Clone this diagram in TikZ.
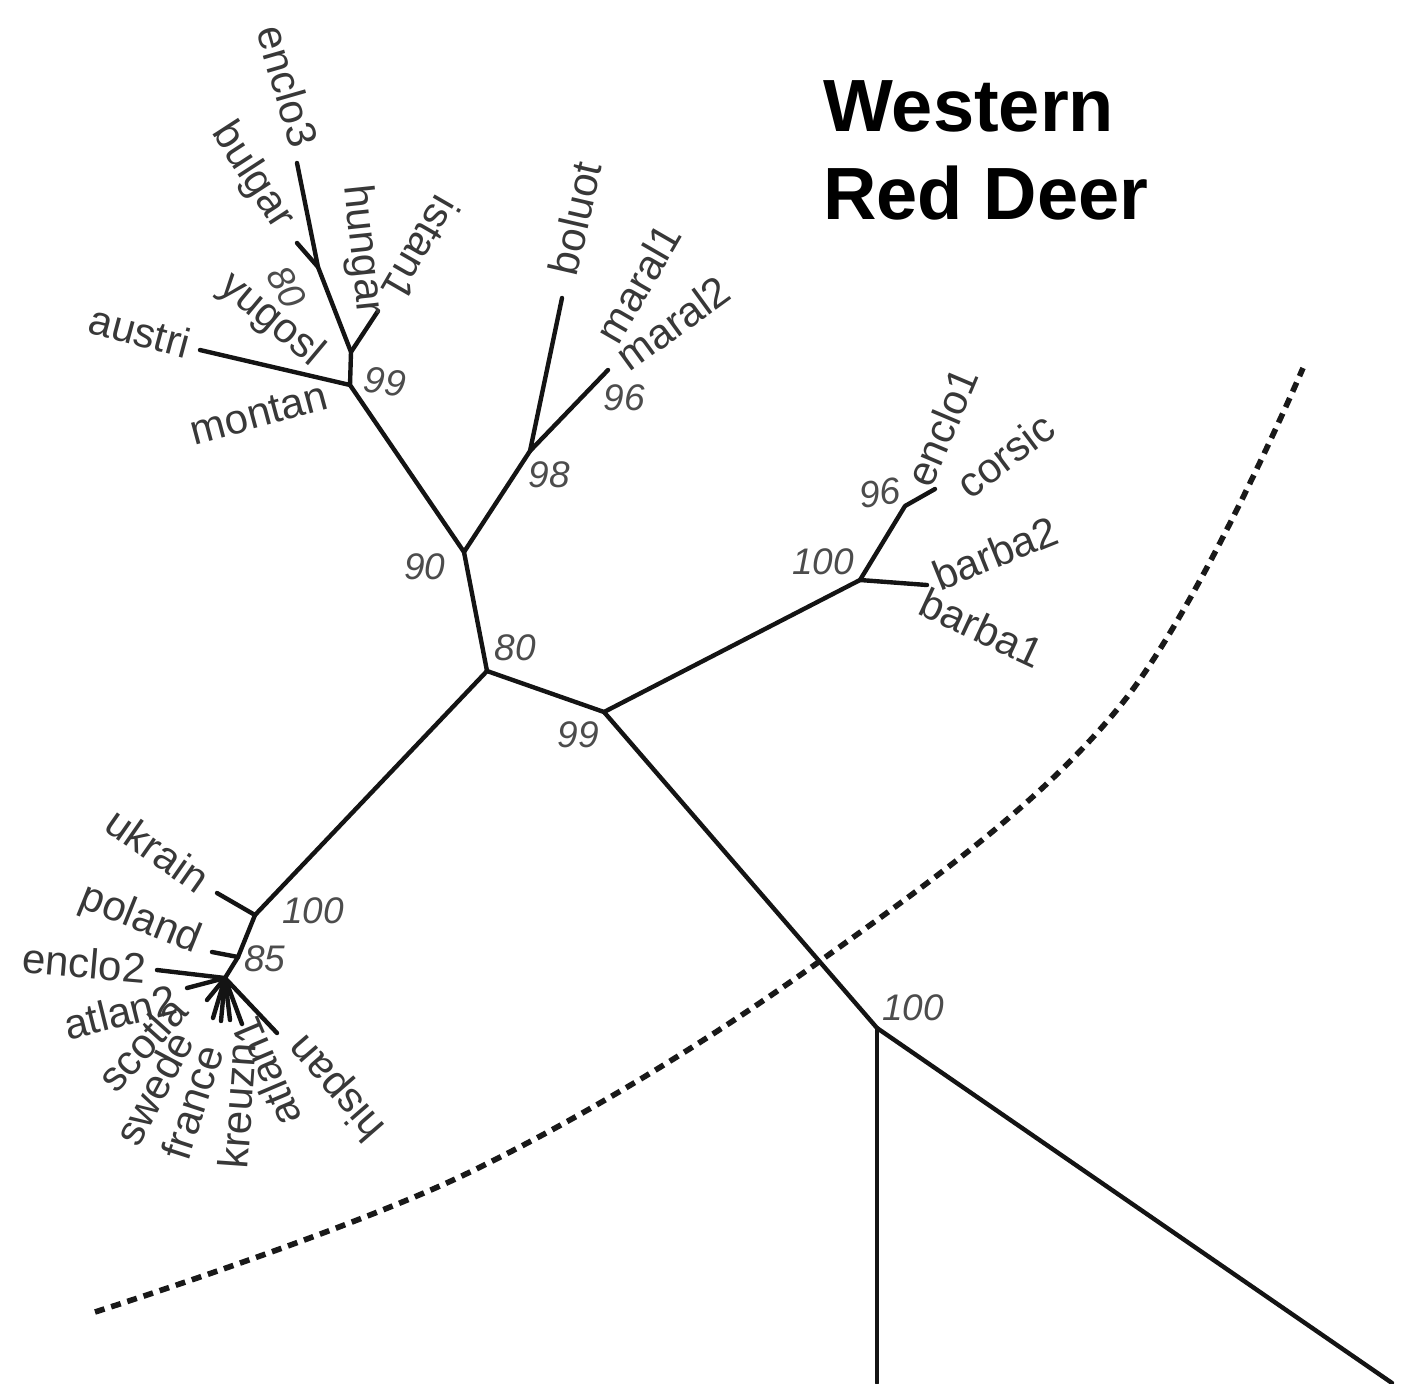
\documentclass[tikz,border=0pt]{standalone}
\usepackage{fontspec}
\setmainfont{Liberation Sans}
\begin{document}
\begin{tikzpicture}[x=0.5pt,y=-0.5pt,
  br/.style={line width=2.2pt, draw=black!92, line cap=round, line join=round},
  tx/.style={font=\fontsize{21}{21}\selectfont, text=black!78, inner sep=0pt},
  bs/.style={font=\itshape\fontsize{18.5}{18.5}\selectfont, text=black!70, inner sep=0pt},
  ttl/.style={font=\bfseries\fontsize{37}{44}\selectfont, text=black, inner sep=0pt, align=left, anchor=north west},
  bound/.style={line width=2.8pt, draw=black!90, dash pattern=on 5pt off 3.5pt}]
\useasboundingbox (0,0) rectangle (1402,1383);
% ---- tree nodes (coordinates) ----
\coordinate (n99) at (350,385);
\coordinate (nh) at (351,352);
\coordinate (n80a) at (318,267);
\coordinate (tenclo3) at (297,163);
\coordinate (tbulgar) at (297,243);
\coordinate (tistan) at (378,311);
\coordinate (taustri) at (200,350);
\coordinate (n90) at (464,552);
\coordinate (n98) at (530,451);
\coordinate (tboluot) at (562,298);
\coordinate (n96a) at (608,370);
\coordinate (n80c) at (487,671);
\coordinate (n99b) at (604,712);
\coordinate (n100b) at (860,580);
\coordinate (n96b) at (905,506);
\coordinate (tenclo1) at (935,489);
\coordinate (tbarba) at (927,585);
\coordinate (n100c) at (877,1028);
\coordinate (eb1) at (877,1383);
\coordinate (eb2) at (1392,1383);
\coordinate (n100a) at (255,915);
\coordinate (tukrain) at (217,893);
\coordinate (n85) at (238,957);
\coordinate (tpoland) at (212,952);
\coordinate (nc) at (225,978);
\coordinate (tenclo2) at (157,970);
\coordinate (tatlan2) at (187,988);
\coordinate (tscot) at (207,1000);
\coordinate (tswede) at (213,1018);
\coordinate (tfrance) at (221,1021);
\coordinate (tkreuz) at (230,1020);
\coordinate (tatlan1) at (242,1024);
\coordinate (thispan) at (277,1033);
\coordinate (d0) at (95,1312);
\coordinate (d1) at (468,1173);
\coordinate (d2) at (820,961);
\coordinate (d3) at (1120,706);
\coordinate (d4) at (1303,368);
% ---- branches ----
\draw[br] (n99) -- (nh) -- (n80a) -- (tenclo3);
\draw[br] (n80a) -- (tbulgar);
\draw[br] (nh) -- (tistan);
\draw[br] (n99) -- (taustri);
\draw[br] (n99) -- (n90);
\draw[br] (n90) -- (n98) -- (tboluot);
\draw[br] (n98) -- (n96a);
\draw[br] (n90) -- (n80c);
\draw[br] (n80c) -- (n99b);
\draw[br] (n99b) -- (n100b) -- (n96b) -- (tenclo1);
\draw[br] (n100b) -- (tbarba);
\draw[br] (n99b) -- (n100c);
\draw[br] (n100c) -- (eb1);
\draw[br] (n100c) -- (eb2);
\draw[br] (n80c) -- (n100a);
\draw[br] (n100a) -- (tukrain);
\draw[br] (n100a) -- (n85) -- (nc);
\draw[br] (n85) -- (tpoland);
\draw[br] (nc) -- (tenclo2);
\draw[br] (nc) -- (tatlan2);
\draw[br] (nc) -- (tscot);
\draw[br] (nc) -- (tswede);
\draw[br] (nc) -- (tfrance);
\draw[br] (nc) -- (tkreuz);
\draw[br] (nc) -- (tatlan1);
\draw[br] (nc) -- (thispan);
% ---- boundary ----
\draw[bound] plot[smooth, tension=0.6] coordinates {(d0) (d1) (d2) (d3) (d4)};
% ---- taxon labels ----
\node[tx, rotate=-74] (lenclo3) at (288,86) {enclo3};
\node[tx, rotate=-57] (lbulgar) at (252,176) {bulgar};
\node[tx, rotate=-84] (lhungar) at (362,250) {hungar};
\node[tx, rotate=240] (listan) at (421,249) {istan1};
\node[tx, rotate=-40] (lyugosl) at (271,320) {yugosl};
\node[tx, rotate=-15] (laustri) at (140,331) {austri};
\node[tx, rotate=15] (lmontan) at (259,414) {montan};
\node[tx, rotate=77] (lboluot) at (575,218) {boluot};
\node[tx, rotate=60] (lmaral1) at (638,283) {maral1};
\node[tx, rotate=36] (lmaral2) at (673,323) {maral2};
\node[tx, rotate=67] (lenclo1) at (942,427) {enclo1};
\node[tx, rotate=37] (lcorsic) at (1005,455) {corsic};
\node[tx, rotate=22] (lbarba2) at (995,553) {barba2};
\node[tx, rotate=-25] (lbarba1) at (982,628) {barba1};
\node[tx, rotate=-35] (lukrain) at (158,850) {ukrain};
\node[tx, rotate=-22] (lpoland) at (140,920) {poland};
\node[tx, rotate=-5] (lenclo2) at (84,963) {enclo2};
\node[tx, rotate=14] (latlan2) at (120,1012) {atlan2};
\node[tx, rotate=48] (lscot) at (142,1044) {scotla};
\node[tx, rotate=62] (lswede) at (154,1088) {swede};
\node[tx, rotate=72] (lfrance) at (192,1102) {france};
\node[tx, rotate=86] (lkreuz) at (237,1106) {kreuzn};
\node[tx, rotate=113] (latlan1) at (266,1072) {atlan1};
\node[tx, rotate=131] (lhispan) at (338,1087) {hispan};
% ---- bootstrap values ----
\node[bs, rotate=-60] (b80a) at (287,287) {80};
\node[bs, rotate=-8] (b99a) at (385,382) {99};
\node[bs] (b90) at (425,567) {90};
\node[bs] (b98) at (549,475) {98};
\node[bs] (b96a) at (624,398) {96};
\node[bs] (b80c) at (515,648) {80};
\node[bs] (b99b) at (578,735) {99};
\node[bs, rotate=8] (b96b) at (880,493) {96};
\node[bs] (b100b) at (823,562) {100};
\node[bs] (b100c) at (913,1008) {100};
\node[bs] (b100a) at (313,911) {100};
\node[bs] (b85) at (265,959) {85};
% ---- title ----
\node[ttl] (title) at (823,80) {Western\\Red Deer};
\end{tikzpicture}
\end{document}
